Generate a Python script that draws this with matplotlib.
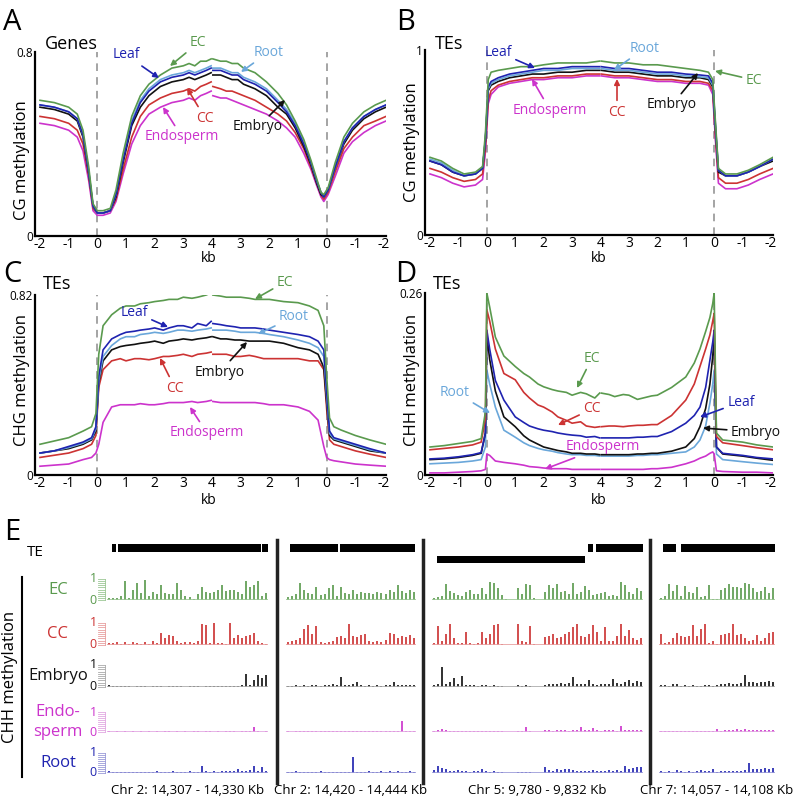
import matplotlib
matplotlib.use("Agg")
import matplotlib.pyplot as plt
from matplotlib.lines import Line2D
import numpy as np

plt.rcParams['font.family'] = ['Open Sans', 'DejaVu Sans']

W, H = 796, 806
fig = plt.figure(figsize=(W / 100, H / 100), dpi=100)


def fbox(l, t, r, b):
    return [l / W, 1 - b / H, (r - l) / W, (b - t) / H]


C_EC = '#5a9a4e'
C_LEAF = '#1f23b0'
C_ROOT = '#6aa7da'
C_EMB = '#111111'
C_CC = '#cc3333'
C_ENDO = '#cc33cc'

XT = ['-2', '-1', '0', '1', '2', '3', '4', '3', '2', '1', '0', '-1', '-2']

# ---------------- Panel A: genes, CG ----------------
UA_L = [0, 0.5, 1.0, 1.3, 1.5, 1.7, 1.85, 2.0, 2.2, 2.45, 2.65, 2.9, 3.2, 3.5, 3.8, 4.2, 4.6, 5.0, 5.2, 5.4, 5.6, 5.8, 5.97]
UA_R = [6.03, 6.3, 6.5, 6.7, 6.9, 7.1, 7.5, 7.9, 8.3, 8.6, 8.9, 9.2, 9.45, 9.65, 9.8, 9.9, 10.05, 10.3, 10.6, 10.9, 11.3, 11.7, 12.07]
A_EC_L = [0.59, 0.58, 0.56, 0.53, 0.46, 0.30, 0.14, 0.11, 0.11, 0.12, 0.20, 0.36, 0.52, 0.61, 0.66, 0.70, 0.73, 0.74, 0.75, 0.74, 0.76, 0.76, 0.77]
A_LEAF_L = [0.57, 0.56, 0.54, 0.51, 0.44, 0.28, 0.13, 0.10, 0.10, 0.11, 0.18, 0.33, 0.49, 0.58, 0.63, 0.67, 0.69, 0.70, 0.71, 0.70, 0.71, 0.72, 0.73]
A_ROOT_L = [0.57, 0.56, 0.54, 0.51, 0.44, 0.28, 0.13, 0.10, 0.10, 0.11, 0.18, 0.34, 0.50, 0.59, 0.64, 0.68, 0.70, 0.71, 0.72, 0.71, 0.72, 0.73, 0.74]
A_EMB_L = [0.56, 0.55, 0.53, 0.50, 0.43, 0.27, 0.13, 0.10, 0.10, 0.11, 0.17, 0.32, 0.48, 0.56, 0.61, 0.65, 0.67, 0.68, 0.69, 0.68, 0.69, 0.70, 0.71]
A_CC_L = [0.52, 0.51, 0.49, 0.46, 0.40, 0.26, 0.12, 0.10, 0.10, 0.11, 0.16, 0.29, 0.43, 0.52, 0.57, 0.60, 0.62, 0.63, 0.64, 0.63, 0.65, 0.66, 0.67]
A_ENDO_L = [0.49, 0.48, 0.46, 0.43, 0.37, 0.24, 0.11, 0.09, 0.09, 0.10, 0.15, 0.27, 0.40, 0.48, 0.53, 0.56, 0.58, 0.59, 0.60, 0.59, 0.61, 0.62, 0.63]
A_EC_R = [0.77, 0.76, 0.76, 0.75, 0.75, 0.73, 0.71, 0.67, 0.62, 0.57, 0.50, 0.42, 0.33, 0.25, 0.19, 0.18, 0.21, 0.32, 0.43, 0.49, 0.54, 0.57, 0.59]
A_LEAF_R = [0.72, 0.72, 0.71, 0.70, 0.70, 0.68, 0.66, 0.63, 0.58, 0.54, 0.48, 0.40, 0.32, 0.24, 0.19, 0.17, 0.20, 0.30, 0.41, 0.47, 0.52, 0.55, 0.57]
A_ROOT_R = [0.73, 0.73, 0.72, 0.71, 0.71, 0.69, 0.67, 0.64, 0.59, 0.55, 0.49, 0.41, 0.32, 0.24, 0.19, 0.17, 0.20, 0.30, 0.41, 0.47, 0.52, 0.55, 0.57]
A_EMB_R = [0.70, 0.70, 0.69, 0.68, 0.68, 0.66, 0.64, 0.61, 0.56, 0.53, 0.47, 0.39, 0.31, 0.23, 0.18, 0.17, 0.20, 0.30, 0.40, 0.46, 0.51, 0.54, 0.56]
A_CC_R = [0.65, 0.64, 0.63, 0.63, 0.62, 0.61, 0.59, 0.56, 0.53, 0.50, 0.45, 0.38, 0.30, 0.23, 0.18, 0.16, 0.19, 0.28, 0.38, 0.43, 0.48, 0.50, 0.52]
A_ENDO_R = [0.61, 0.60, 0.60, 0.59, 0.58, 0.57, 0.55, 0.53, 0.50, 0.47, 0.43, 0.36, 0.29, 0.22, 0.17, 0.15, 0.18, 0.26, 0.36, 0.41, 0.45, 0.48, 0.50]

# ---------------- Panel B: TEs, CG ----------------
UB_L = [0, 0.4, 0.8, 1.2, 1.6, 1.85, 1.95, 2.05, 2.15, 2.4, 2.8, 3.2, 3.6, 4.0, 4.5, 5.0, 5.5, 5.97]
UB_R = [6.03, 6.5, 7.0, 7.5, 8.0, 8.5, 9.0, 9.5, 9.8, 9.95, 10.05, 10.15, 10.4, 10.8, 11.2, 11.6, 12.07]
B_EC_L = [0.42, 0.40, 0.36, 0.33, 0.34, 0.37, 0.55, 0.84, 0.88, 0.89, 0.90, 0.91, 0.91, 0.92, 0.93, 0.93, 0.93, 0.94]
B_LEAF_L = [0.40, 0.38, 0.34, 0.32, 0.33, 0.36, 0.52, 0.80, 0.83, 0.85, 0.87, 0.88, 0.89, 0.90, 0.90, 0.91, 0.91, 0.91]
B_ROOT_L = [0.41, 0.39, 0.35, 0.32, 0.33, 0.36, 0.52, 0.79, 0.82, 0.84, 0.86, 0.87, 0.88, 0.89, 0.89, 0.90, 0.90, 0.90]
B_EMB_L = [0.40, 0.38, 0.34, 0.32, 0.33, 0.36, 0.51, 0.78, 0.81, 0.83, 0.85, 0.86, 0.87, 0.87, 0.88, 0.88, 0.89, 0.89]
B_CC_L = [0.36, 0.34, 0.31, 0.29, 0.30, 0.33, 0.47, 0.73, 0.78, 0.81, 0.83, 0.84, 0.85, 0.85, 0.86, 0.86, 0.87, 0.87]
B_ENDO_L = [0.33, 0.31, 0.28, 0.26, 0.27, 0.30, 0.45, 0.71, 0.76, 0.80, 0.82, 0.83, 0.84, 0.84, 0.85, 0.85, 0.86, 0.86]
B_EC_R = [0.94, 0.93, 0.93, 0.92, 0.92, 0.91, 0.90, 0.89, 0.88, 0.84, 0.60, 0.36, 0.33, 0.33, 0.35, 0.38, 0.42]
B_LEAF_R = [0.91, 0.90, 0.90, 0.89, 0.88, 0.88, 0.87, 0.865, 0.86, 0.82, 0.58, 0.35, 0.32, 0.32, 0.34, 0.37, 0.41]
B_ROOT_R = [0.90, 0.89, 0.89, 0.88, 0.87, 0.87, 0.86, 0.855, 0.85, 0.81, 0.57, 0.35, 0.32, 0.32, 0.34, 0.37, 0.41]
B_EMB_R = [0.89, 0.88, 0.88, 0.87, 0.86, 0.86, 0.85, 0.85, 0.84, 0.80, 0.56, 0.34, 0.32, 0.32, 0.34, 0.37, 0.40]
B_CC_R = [0.87, 0.86, 0.86, 0.85, 0.84, 0.84, 0.83, 0.83, 0.82, 0.78, 0.52, 0.31, 0.28, 0.28, 0.30, 0.33, 0.36]
B_ENDO_R = [0.86, 0.85, 0.85, 0.84, 0.83, 0.83, 0.82, 0.82, 0.81, 0.76, 0.50, 0.28, 0.25, 0.25, 0.27, 0.30, 0.33]

# ---------------- Panel C: TEs, CHG ----------------
UC_L = [0, 0.5, 1.0, 1.5, 1.8, 1.95, 2.05, 2.2, 2.5, 2.8, 3.0, 3.3, 3.5, 3.8, 4.0, 4.3, 4.5, 4.8, 5.0, 5.3, 5.5, 5.8, 5.97]
UC_R = [6.03, 6.3, 6.5, 6.8, 7.0, 7.3, 7.5, 7.8, 8.0, 8.5, 9.0, 9.4, 9.7, 9.9, 10.0, 10.1, 10.25, 10.5, 11.0, 11.5, 12.07]
C_EC_L = [0.14, 0.155, 0.17, 0.20, 0.22, 0.28, 0.55, 0.68, 0.73, 0.76, 0.77, 0.77, 0.78, 0.785, 0.79, 0.795, 0.80, 0.80, 0.81, 0.805, 0.81, 0.82, 0.83]
C_LEAF_L = [0.10, 0.11, 0.13, 0.15, 0.17, 0.22, 0.45, 0.57, 0.62, 0.64, 0.65, 0.655, 0.66, 0.665, 0.67, 0.66, 0.67, 0.68, 0.68, 0.67, 0.69, 0.68, 0.70]
C_ROOT_L = [0.10, 0.11, 0.125, 0.145, 0.165, 0.21, 0.43, 0.54, 0.59, 0.62, 0.63, 0.63, 0.64, 0.645, 0.65, 0.645, 0.65, 0.66, 0.66, 0.655, 0.66, 0.665, 0.67]
C_EMB_L = [0.10, 0.11, 0.12, 0.14, 0.16, 0.20, 0.42, 0.52, 0.57, 0.585, 0.59, 0.595, 0.60, 0.605, 0.61, 0.60, 0.61, 0.615, 0.62, 0.615, 0.62, 0.625, 0.63]
C_CC_L = [0.08, 0.09, 0.10, 0.12, 0.14, 0.18, 0.40, 0.48, 0.52, 0.53, 0.52, 0.53, 0.53, 0.525, 0.53, 0.54, 0.54, 0.545, 0.55, 0.54, 0.55, 0.555, 0.56]
C_ENDO_L = [0.04, 0.045, 0.05, 0.07, 0.08, 0.10, 0.14, 0.24, 0.31, 0.32, 0.32, 0.32, 0.325, 0.32, 0.32, 0.325, 0.33, 0.33, 0.33, 0.335, 0.33, 0.335, 0.34]
C_EC_R = [0.82, 0.815, 0.81, 0.81, 0.81, 0.805, 0.80, 0.80, 0.80, 0.79, 0.785, 0.77, 0.75, 0.68, 0.45, 0.26, 0.22, 0.205, 0.18, 0.16, 0.14]
C_LEAF_R = [0.69, 0.685, 0.68, 0.675, 0.67, 0.67, 0.67, 0.665, 0.66, 0.65, 0.64, 0.63, 0.61, 0.57, 0.38, 0.20, 0.17, 0.16, 0.14, 0.12, 0.10]
C_ROOT_R = [0.66, 0.66, 0.66, 0.655, 0.65, 0.65, 0.65, 0.645, 0.64, 0.63, 0.615, 0.60, 0.58, 0.54, 0.36, 0.19, 0.165, 0.155, 0.135, 0.115, 0.10]
C_EMB_R = [0.63, 0.62, 0.62, 0.615, 0.615, 0.61, 0.61, 0.61, 0.61, 0.60, 0.58, 0.57, 0.55, 0.49, 0.33, 0.18, 0.16, 0.15, 0.13, 0.11, 0.10]
C_CC_R = [0.55, 0.55, 0.55, 0.54, 0.54, 0.545, 0.54, 0.53, 0.53, 0.53, 0.53, 0.52, 0.52, 0.48, 0.30, 0.16, 0.14, 0.13, 0.11, 0.095, 0.08]
C_ENDO_R = [0.335, 0.33, 0.33, 0.33, 0.33, 0.33, 0.33, 0.325, 0.32, 0.32, 0.31, 0.29, 0.25, 0.13, 0.08, 0.07, 0.065, 0.06, 0.05, 0.045, 0.04]

# ---------------- Panel D: TEs, CHH ----------------
UD_L = [0, 0.5, 1.0, 1.5, 1.8, 1.95, 2.0, 2.1, 2.3, 2.6, 3.0, 3.3, 3.5, 3.8, 4.0, 4.3, 4.5, 4.8, 5.0, 5.3, 5.5, 5.8, 5.97]
UD_R = [6.03, 6.3, 6.5, 6.8, 7.0, 7.3, 7.5, 7.8, 8.0, 8.5, 9.0, 9.3, 9.5, 9.7, 9.85, 9.95, 10.0, 10.08, 10.3, 11.0, 11.5, 12.07]
D_EC_L = [0.040, 0.042, 0.045, 0.048, 0.052, 0.09, 0.26, 0.24, 0.197, 0.17, 0.155, 0.145, 0.14, 0.13, 0.126, 0.122, 0.12, 0.118, 0.114, 0.118, 0.116, 0.110, 0.117]
D_CC_L = [0.036, 0.038, 0.040, 0.043, 0.047, 0.08, 0.236, 0.22, 0.18, 0.145, 0.136, 0.118, 0.11, 0.10, 0.097, 0.09, 0.083, 0.078, 0.074, 0.076, 0.070, 0.068, 0.069]
D_LEAF_L = [0.023, 0.024, 0.026, 0.029, 0.032, 0.06, 0.207, 0.18, 0.135, 0.107, 0.083, 0.075, 0.07, 0.066, 0.064, 0.062, 0.06, 0.058, 0.057, 0.056, 0.054, 0.055, 0.053]
D_EMB_L = [0.022, 0.023, 0.025, 0.028, 0.031, 0.06, 0.20, 0.165, 0.12, 0.083, 0.069, 0.056, 0.05, 0.044, 0.040, 0.037, 0.035, 0.033, 0.031, 0.031, 0.030, 0.030, 0.029]
D_ROOT_L = [0.016, 0.017, 0.018, 0.020, 0.022, 0.04, 0.15, 0.13, 0.097, 0.064, 0.054, 0.046, 0.042, 0.038, 0.036, 0.034, 0.032, 0.030, 0.029, 0.029, 0.028, 0.028, 0.027]
D_ENDO_L = [0.003, 0.003, 0.004, 0.005, 0.006, 0.008, 0.03, 0.028, 0.02, 0.018, 0.016, 0.014, 0.012, 0.011, 0.010, 0.009, 0.009, 0.009, 0.008, 0.008, 0.008, 0.008, 0.008]
D_EC_R = [0.117, 0.115, 0.112, 0.115, 0.114, 0.108, 0.110, 0.113, 0.114, 0.125, 0.14, 0.16, 0.18, 0.205, 0.225, 0.245, 0.26, 0.06, 0.050, 0.047, 0.043, 0.040]
D_CC_R = [0.069, 0.070, 0.070, 0.069, 0.070, 0.071, 0.071, 0.072, 0.072, 0.085, 0.107, 0.13, 0.155, 0.18, 0.20, 0.22, 0.231, 0.055, 0.046, 0.042, 0.039, 0.036]
D_LEAF_R = [0.053, 0.053, 0.053, 0.053, 0.053, 0.054, 0.054, 0.055, 0.055, 0.062, 0.074, 0.085, 0.097, 0.125, 0.164, 0.19, 0.207, 0.04, 0.031, 0.028, 0.025, 0.023]
D_EMB_R = [0.029, 0.029, 0.029, 0.029, 0.029, 0.030, 0.030, 0.031, 0.031, 0.034, 0.04, 0.052, 0.069, 0.095, 0.13, 0.17, 0.197, 0.04, 0.030, 0.027, 0.024, 0.021]
D_ROOT_R = [0.027, 0.027, 0.027, 0.027, 0.027, 0.028, 0.028, 0.029, 0.029, 0.031, 0.033, 0.040, 0.05, 0.07, 0.103, 0.13, 0.15, 0.03, 0.022, 0.019, 0.017, 0.015]
D_ENDO_R = [0.008, 0.008, 0.008, 0.008, 0.008, 0.008, 0.008, 0.009, 0.009, 0.011, 0.016, 0.02, 0.024, 0.027, 0.031, 0.033, 0.030, 0.006, 0.005, 0.004, 0.004, 0.003]

# ---------------- Panel E: CHH tracks (percent) ----------------
E_REGIONS = ['Chr 2: 14,307 - 14,330 Kb', 'Chr 2: 14,420 - 14,444 Kb',
             'Chr 5: 9,780 - 9,832 Kb', 'Chr 7: 14,057 - 14,108 Kb']
E_KB = [(14307, 14330), (14420, 14444), (9780, 9832), (14057, 14108)]
# TE annotations: (start kb, end kb, strand)
TE_R1 = [(14307.7, 14308.3, 1), (14308.5, 14329.0, 1), (14329.1, 14330.0, 1)]
TE_R2 = [(14420.7, 14429.6, 1), (14430.0, 14443.8, 1)]
TE_R3 = [(9781.2, 9817.7, -1), (9818.4, 9819.8, 1), (9820.3, 9832.0, 1)]
TE_R4 = [(14058.8, 14064.5, 1), (14066.7, 14108.0, 1)]

EC_R1 = [10, 10, 10, 20, 90, 10, 50, 80, 35, 95, 20, 40, 30, 70, 35, 30, 30, 80, 50, 20, 15, 5, 30, 60, 40, 35, 40, 50, 70, 45, 50, 50, 40, 30, 90, 60, 70, 90, 20, 35]
CC_R1 = [10, 10, 15, 5, 15, 5, 15, 10, 5, 15, 5, 20, 10, 55, 30, 45, 40, 20, 10, 15, 15, 10, 20, 95, 90, 10, 100, 10, 10, 5, 100, 30, 45, 30, 40, 45, 55, 20, 10, 5]
EMB_R1 = [8, 5, 3, 6, 3, 5, 2, 6, 3, 5, 2, 6, 3, 4, 2, 6, 5, 3, 6, 2, 5, 3, 6, 2, 5, 3, 6, 5, 3, 6, 5, 3, 6, 8, 60, 8, 30, 55, 40, 55]
ENDO_R1 = [3, 2, 3, 2, 3, 2, 3, 2, 3, 2, 3, 2, 3, 2, 3, 4, 2, 3, 2, 3, 2, 4, 3, 2, 3, 4, 2, 3, 2, 3, 4, 3, 2, 3, 3, 4, 25, 3, 2, 3]
ROOT_R1 = [8, 5, 6, 4, 7, 3, 5, 6, 4, 5, 3, 6, 8, 5, 7, 6, 8, 5, 7, 6, 8, 6, 7, 35, 8, 6, 9, 7, 8, 9, 10, 12, 20, 10, 12, 14, 35, 12, 30, 10]

EC_R2 = [15, 20, 30, 80, 50, 35, 30, 60, 25, 30, 55, 70, 20, 60, 35, 30, 50, 30, 40, 35, 35, 30, 40, 35, 30, 50, 40, 70, 45, 35, 50, 40]
CC_R2 = [15, 20, 25, 30, 75, 90, 50, 85, 15, 10, 15, 20, 35, 40, 30, 95, 40, 35, 45, 50, 20, 15, 20, 15, 25, 55, 50, 30, 40, 35, 45, 30]
EMB_R2 = [6, 5, 8, 6, 7, 5, 8, 10, 6, 7, 8, 12, 10, 45, 8, 10, 12, 25, 8, 6, 7, 5, 8, 6, 7, 10, 25, 8, 10, 8, 10, 8]
ENDO_R2 = [3, 2, 3, 4, 3, 5, 3, 4, 3, 6, 3, 4, 5, 3, 4, 3, 5, 3, 4, 3, 5, 3, 4, 3, 5, 4, 3, 5, 55, 4, 3, 5]
ROOT_R2 = [6, 5, 8, 5, 7, 4, 6, 5, 8, 5, 6, 4, 5, 7, 5, 6, 80, 5, 7, 6, 8, 6, 7, 8, 6, 9, 7, 8, 6, 7, 8, 6]

EC_R3 = [10, 15, 20, 75, 45, 35, 25, 20, 40, 50, 30, 30, 55, 30, 85, 80, 55, 25, 5, 0, 0, 55, 30, 75, 70, 10, 0, 0, 40, 70, 55, 75, 40, 45, 30, 80, 30, 40, 65, 50, 25, 30, 35, 40, 20, 25, 20, 85, 70, 40, 30, 55, 45]
CC_R3 = [10, 85, 20, 50, 95, 30, 10, 10, 60, 10, 5, 10, 60, 30, 50, 90, 95, 5, 0, 0, 0, 95, 20, 15, 85, 5, 0, 0, 35, 40, 50, 30, 35, 50, 60, 80, 95, 40, 35, 50, 90, 60, 20, 80, 20, 20, 40, 95, 40, 70, 30, 25, 30]
EMB_R3 = [10, 15, 90, 15, 25, 40, 15, 50, 8, 10, 8, 5, 8, 10, 5, 8, 5, 5, 0, 0, 0, 8, 5, 8, 5, 0, 0, 0, 10, 12, 15, 12, 18, 15, 20, 45, 12, 15, 12, 30, 15, 10, 15, 12, 15, 35, 18, 15, 25, 30, 20, 28, 25]
ENDO_R3 = [5, 10, 15, 8, 5, 3, 4, 3, 4, 3, 3, 4, 3, 4, 3, 3, 4, 3, 0, 0, 0, 4, 3, 25, 4, 0, 0, 0, 8, 10, 6, 12, 8, 10, 7, 12, 9, 25, 8, 12, 20, 8, 6, 10, 8, 9, 7, 30, 9, 8, 10, 12, 9]
ROOT_R3 = [15, 35, 25, 20, 10, 8, 15, 10, 8, 6, 10, 8, 20, 8, 6, 8, 7, 5, 0, 0, 0, 5, 6, 5, 6, 0, 0, 0, 30, 15, 12, 18, 15, 20, 18, 15, 12, 10, 12, 10, 14, 12, 10, 12, 14, 12, 15, 12, 35, 20, 25, 30, 28]

EC_R4 = [10, 20, 75, 45, 70, 20, 65, 40, 35, 60, 15, 20, 70, 5, 5, 50, 55, 75, 60, 60, 55, 80, 75, 55, 40, 45, 60, 35, 55]
CC_R4 = [50, 10, 15, 30, 55, 40, 35, 40, 90, 40, 75, 95, 10, 20, 5, 45, 50, 55, 95, 45, 50, 30, 20, 25, 45, 20, 30, 55, 60]
EMB_R4 = [10, 8, 6, 15, 12, 6, 8, 5, 10, 6, 5, 8, 10, 5, 8, 12, 15, 18, 12, 15, 20, 55, 25, 22, 20, 25, 22, 28, 25]
ENDO_R4 = [5, 4, 5, 3, 5, 4, 5, 3, 5, 4, 3, 5, 4, 3, 15, 5, 8, 10, 8, 15, 12, 15, 10, 8, 12, 10, 8, 10, 12]
ROOT_R4 = [8, 5, 10, 6, 15, 8, 6, 8, 7, 10, 15, 8, 10, 20, 6, 10, 12, 10, 8, 12, 10, 15, 50, 20, 18, 22, 25, 20, 25]


# ======================= drawing =======================
def profile(l, t, r, b, u0px, u12px, ymax, ytop_lbl, series, ylabel, ylab_x, ylab_y):
    s = (u12px - u0px) / 12.0
    ax = fig.add_axes(fbox(l, t, r, b))
    ax.set_xlim((l - u0px) / s, 12 + (r - u12px) / s)
    ax.set_ylim(0, ymax)
    ax.vlines([2, 10], 0, ymax, colors='#8c8c8c', linestyles=(0, (5, 4)), lw=1.1, zorder=1)
    for c, uL, vL, uR, vR in series:
        ax.plot(uL, vL, color=c, lw=1.2, zorder=3)
        ax.plot(uR, vR, color=c, lw=1.2, zorder=3)
    for sp in ['top', 'right']:
        ax.spines[sp].set_visible(False)
    for sp in ['left', 'bottom']:
        ax.spines[sp].set_linewidth(1.6)
    ax.set_xticks(range(13))
    ax.set_xticklabels(XT, fontsize=10)
    ax.set_yticks([0, ymax])
    ax.set_yticklabels(['0', ytop_lbl], fontsize=8.5)
    ax.tick_params(axis='both', length=0, pad=1.5)
    ax.tick_params(axis='x', pad=0.5)
    fig.text(ylab_x / W, 1 - ylab_y / H, ylabel, rotation=90, ha='center', va='center', fontsize=12)
    return ax


def note(ax, text, c, txy, tip):
    ax.annotate(text, xy=(tip[0], H - tip[1]), xycoords='figure pixels',
                xytext=(txy[0], H - txy[1]), textcoords='figure pixels',
                color=c, fontsize=10, ha='center', va='center', annotation_clip=False,
                arrowprops=dict(arrowstyle='-|>', color=c, lw=1.2, mutation_scale=8,
                                shrinkA=1, shrinkB=0))


# Panel A
axA = profile(35, 52, 386, 236, 40, 384, 0.8, '0.8', [
    (C_ENDO, UA_L, A_ENDO_L, UA_R, A_ENDO_R),
    (C_CC, UA_L, A_CC_L, UA_R, A_CC_R),
    (C_EMB, UA_L, A_EMB_L, UA_R, A_EMB_R),
    (C_ROOT, UA_L, A_ROOT_L, UA_R, A_ROOT_R),
    (C_LEAF, UA_L, A_LEAF_L, UA_R, A_LEAF_R),
    (C_EC, UA_L, A_EC_L, UA_R, A_EC_R)], 'CG methylation', 22, 160)
note(axA, 'EC', C_EC, (198, 43), (170, 66))
note(axA, 'Leaf', C_LEAF, (126, 55), (159, 78))
note(axA, 'Root', C_ROOT, (269, 52), (241, 72))
note(axA, 'CC', C_CC, (205, 118), (187, 88))
note(axA, 'Endosperm', C_ENDO, (182, 137), (163, 107))
note(axA, 'Embryo', C_EMB, (258, 127), (285, 100))

# Panel B
axB = profile(425, 50, 773, 235, 430, 771, 1.0, '1', [
    (C_ENDO, UB_L, B_ENDO_L, UB_R, B_ENDO_R),
    (C_CC, UB_L, B_CC_L, UB_R, B_CC_R),
    (C_EMB, UB_L, B_EMB_L, UB_R, B_EMB_R),
    (C_ROOT, UB_L, B_ROOT_L, UB_R, B_ROOT_R),
    (C_LEAF, UB_L, B_LEAF_L, UB_R, B_LEAF_R),
    (C_EC, UB_L, B_EC_L, UB_R, B_EC_R)], 'CG methylation', 412, 142)
note(axB, 'Leaf', C_LEAF, (498, 52), (535, 68))
note(axB, 'Root', C_ROOT, (645, 48), (614, 70))
note(axB, 'EC', C_EC, (754, 80), (715, 71))
note(axB, 'Endosperm', C_ENDO, (550, 110), (532, 79))
note(axB, 'CC', C_CC, (617, 112), (617, 79))
note(axB, 'Embryo', C_EMB, (672, 105), (698, 73))

# Panel C
axC = profile(35, 295, 386, 475, 40, 384, 0.82, '0.82', [
    (C_ENDO, UC_L, C_ENDO_L, UC_R, C_ENDO_R),
    (C_CC, UC_L, C_CC_L, UC_R, C_CC_R),
    (C_EMB, UC_L, C_EMB_L, UC_R, C_EMB_R),
    (C_ROOT, UC_L, C_ROOT_L, UC_R, C_ROOT_R),
    (C_LEAF, UC_L, C_LEAF_L, UC_R, C_LEAF_R),
    (C_EC, UC_L, C_EC_L, UC_R, C_EC_R)], 'CHG methylation', 22, 380)
note(axC, 'EC', C_EC, (285, 282), (255, 299))
note(axC, 'Leaf', C_LEAF, (134, 312), (168, 327))
note(axC, 'Root', C_ROOT, (294, 317), (258, 334))
note(axC, 'Embryo', C_EMB, (220, 372), (247, 342))
note(axC, 'CC', C_CC, (175, 388), (160, 358))
note(axC, 'Endosperm', C_ENDO, (207, 433), (190, 407))

# Panel D
axD = profile(425, 293, 773, 475, 430, 771, 0.26, '0.26', [
    (C_ENDO, UD_L, D_ENDO_L, UD_R, D_ENDO_R),
    (C_ROOT, UD_L, D_ROOT_L, UD_R, D_ROOT_R),
    (C_EMB, UD_L, D_EMB_L, UD_R, D_EMB_R),
    (C_LEAF, UD_L, D_LEAF_L, UD_R, D_LEAF_R),
    (C_CC, UD_L, D_CC_L, UD_R, D_CC_R),
    (C_EC, UD_L, D_EC_L, UD_R, D_EC_R)], 'CHH methylation', 412, 380)
note(axD, 'EC', C_EC, (592, 358), (577, 388))
note(axD, 'CC', C_CC, (592, 409), (558, 425))
note(axD, 'Root', C_ROOT, (455, 392), (490, 413))
note(axD, 'Leaf', C_LEAF, (741, 402), (700, 417))
note(axD, 'Embryo', C_EMB, (756, 432), (703, 428))
note(axD, 'Endosperm', C_ENDO, (603, 447), (545, 469))

# kb labels, panel letters, titles
for x, y in [(209, 259), (599, 259), (209, 500), (599, 500)]:
    fig.text(x / W, 1 - y / H, 'kb', ha='center', va='center', fontsize=10)
for x, y, L in [(12, 22, 'A'), (406, 22, 'B'), (12, 275, 'C'), (406, 275, 'D'), (12, 533, 'E')]:
    fig.text(x / W, 1 - y / H, L, ha='center', va='center', fontsize=21)
fig.text(45 / W, 1 - 44 / H, 'Genes', ha='left', va='center', fontsize=13)
fig.text(435 / W, 1 - 44 / H, 'TEs', ha='left', va='center', fontsize=13)
fig.text(43 / W, 1 - 284 / H, 'TEs', ha='left', va='center', fontsize=13)
fig.text(433 / W, 1 - 284 / H, 'TEs', ha='left', va='center', fontsize=13)

# ---------------- Panel E drawing ----------------
REG_PX = [(107, 268), (286, 416), (432, 643), (659, 775)]
TRACKS = [
    ('EC', C_EC, '#9cc795', 579, 600, [EC_R1, EC_R2, EC_R3, EC_R4]),
    ('CC', C_CC, '#e8a0a0', 623, 645, [CC_R1, CC_R2, CC_R3, CC_R4]),
    ('Embryo', C_EMB, '#aaaaaa', 665, 687, [EMB_R1, EMB_R2, EMB_R3, EMB_R4]),
    ('Endo-\nsperm', C_ENDO, '#e2a8e2', 712, 732, [ENDO_R1, ENDO_R2, ENDO_R3, ENDO_R4]),
    ('Root', C_LEAF, '#9a9ad8', 753, 773, [ROOT_R1, ROOT_R2, ROOT_R3, ROOT_R4]),
]
for name, c, cl, top, base, arrs in TRACKS:
    for ri, ((x0, x1), vals) in enumerate(zip(REG_PX, arrs)):
        ax = fig.add_axes(fbox(x0, top, x1, base))
        v = np.array(vals) / 100.0
        ax.bar(np.arange(len(v)), v, width=0.5, color=c, lw=0, alpha=0.85)
        ax.set_xlim(-0.5, len(v) - 0.5)
        ax.set_ylim(0, 1)
        ax.axhline(0, color=cl, lw=1.2)
        ax.axis('off')
        if ri == 0:
            for k in range(11):
                ax.plot([-0.055, -0.01], [k / 10, k / 10], transform=ax.transAxes,
                        color=cl, lw=0.6, clip_on=False)
            ax.plot([-0.01, -0.01], [0, 1], transform=ax.transAxes, color=cl, lw=0.6, clip_on=False)
    fig.text(93 / W, 1 - top / H, '1', color=c, ha='center', va='center', fontsize=9)
    fig.text(93 / W, 1 - base / H, '0', color=c, ha='center', va='center', fontsize=9)
    fig.text(58 / W, 1 - (top + base) / 2 / H, name, color=c, ha='center', va='center',
             fontsize=12, linespacing=1.25)

# TE row
for (x0, x1), (k0, k1), tes in zip(REG_PX, E_KB, [TE_R1, TE_R2, TE_R3, TE_R4]):
    ax = fig.add_axes(fbox(x0 - 4, 540, x1 + 1, 566))
    ax.set_xlim(k0 - (k1 - k0) * 4 / (x1 - x0), k1 + (k1 - k0) * 1 / (x1 - x0))
    ax.set_ylim(0, 1)
    for s0, s1, strand in tes:
        y = 0.55 if strand > 0 else 0.1
        ax.broken_barh([(s0, s1 - s0)], (y, 0.3), facecolors='black')
    ax.axis('off')
fig.text(35 / W, 1 - 553 / H, 'TE', ha='center', va='center', fontsize=11)

# separators and bracket
for x in [277, 423, 650]:
    fig.add_artist(Line2D([x / W, x / W], [1 - 540 / H, 1 - 783 / H], color='#222222', lw=2.5))
fig.add_artist(Line2D([22 / W, 22 / W], [1 - 577 / H, 1 - 777 / H], color='black', lw=1.5))
fig.text(10 / W, 1 - 677 / H, 'CHH methylation', rotation=90, ha='center', va='center', fontsize=12)
for (x0, x1), lab in zip(REG_PX, E_REGIONS):
    fig.text((x0 + x1) / 2 / W, 1 - 790 / H, lab, ha='center', va='center', fontsize=9.5)

fig.savefig('out.png', dpi=100)
